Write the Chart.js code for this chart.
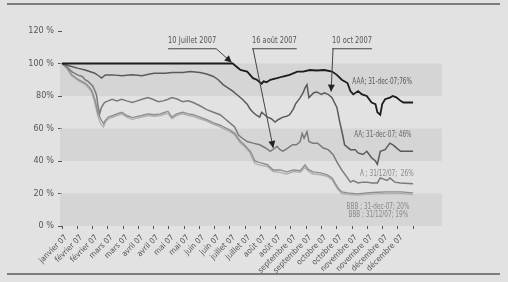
<!DOCTYPE html>
<html>
<head>
<meta charset="utf-8">
<script src="https://cdn.jsdelivr.net/npm/chart.js@4/dist/chart.umd.min.js"></script>
<style>
  html, body { margin: 0; padding: 0; background: #e2e2e2; }
  #wrap { width: 508px; height: 282px; }
</style>
</head>
<body>
<div id="wrap"><canvas id="chart" width="508" height="282"></canvas></div>
<script>
// x = day of 2007 (0 = 1 Jan), y = % of the 1 Jan level
const tickLabels = ['janvier 07', 'février 07', 'février 07', 'mars 07', 'mars 07', 'avril 07', 'avril 07',
  'mai 07', 'mai 07', 'juin 07', 'juin 07', 'juillet 07', 'juillet 07', 'août 07', 'août 07',
  'septembre 07', 'septembre 07', 'octobre 07', 'octobre 07', 'novembre 07', 'novembre 07',
  'décembre 07', 'décembre 07', ''];
const yTickText = ['0 %', '20 %', '40 %', '60 %', '80%', '100 %', '120 %'];

const aaa = [[0,100],[60,100],[122,100],[177,100],[181,98],[185,96],[192,95],[198,91],[202,90],[207,87.6],
  [209,89],[212,88.5],[216,90],[223,91],[229,92],[236,93],[244,95],[250,95],[257,96],[264,95.7],[272,96],
  [280,95],[285,93],[290,90],[296,88],[299,83],[302,81],[307,83],[311,81],[316,80],[321,76],[325,75],
  [327,70],[330,68.5],[332,75],[335,78],[340,79],[343,80],[347,79],[351,77],[354,76],[364,76]];

const aa = [[0,100],[8,98.5],[17,97],[24,96],[34,94],[39,92],[41,91],[45,93],[52,93],[62,92.5],[73,93],
  [83,92.5],[91,93.5],[96,94],[107,94],[114,94.4],[125,94.4],[133,95],[143,94.5],[150,93.5],[157,92],
  [162,90],[167,87],[172,85],[177,83],[183,80],[187,78],[192,75],[195,72],[198,70],[202,68],[205,67],
  [207,70],[211,68],[213,67],[217,66],[221,64],[224,65.4],[229,67],[233,67.5],[236,68.5],[240,72],
  [242,75],[247,79],[250,82],[252,85],[254,87],[256,79],[261,82],[264,82.5],[269,81],[272,82],[276,81],
  [280,79],[285,73],[288,64],[291,56],[293,50],[299,47],[304,47],[307,45],[312,44],[316,46],[321,42],
  [325,40],[327,38],[330,46],[335,47],[340,51],[343,50],[345,49],[351,46],[356,46],[364,46]];

const a = [[0,100],[5,98],[10,95],[16,93],[21,92],[24,90],[27,89],[32,86],[35,82],[36,80],[37,75],[39,69],
  [41,73],[44,76],[48,77],[52,78],[57,77],[62,78],[67,77],[73,76],[78,77],[83,78],[89,79],[94,78],
  [100,76.5],[105,77],[110,78],[114,79],[120,78],[125,76.5],[131,77],[136,76],[143,74],[150,71.6],
  [157,70],[164,68.5],[169,66],[174,63.5],[179,61],[183,56],[187,54],[192,52],[198,51],[205,50],[211,48],
  [216,46],[221,48],[223,49],[226,47],[229,46],[233,47.5],[239,50],[243,50],[247,52],[249,57],[251,54],
  [254,58],[256,52],[260,51],[265,51],[271,48],[276,47],[281,44],[285,39.5],[290,34.5],[296,29.6],
  [299,27],[302,28],[307,26.5],[312,27],[316,27],[321,26.5],[327,26.5],[330,29.6],[337,28],[340,29.6],
  [345,27],[351,26.5],[364,26]];

const bbb20 = [[0,100],[5,97.5],[10,93],[17,90],[24,88],[29,85],[31,83],[34,78],[37,70],[40,66],[43,63],
  [45,65],[48,67],[53,68],[57,69],[62,70],[67,68],[73,66.7],[78,67.5],[83,68],[89,69],[96,68.5],[102,69],
  [107,70],[110,70.5],[114,67],[119,69],[125,70],[131,69],[136,68.5],[143,67],[150,65.4],[157,63.5],
  [164,62],[169,60.5],[174,59],[179,57],[185,52],[189,50],[192,48],[195,46],[197,44],[200,40],[205,39],
  [213,37.7],[219,34.5],[226,34.5],[233,33.3],[240,34.5],[247,34],[252,37.6],[255,35],[260,33.3],
  [268,32.7],[275,31.5],[280,29.6],[283,26.5],[286,23.5],[290,21],[296,20.4],[306,19.8],[316,20.4],
  [327,20.8],[337,21],[351,21],[364,20.4]];

const bbb19 = [[0,100],[5,97],[10,92.5],[17,89.5],[24,87],[29,84],[31,82],[34,76],[37,68],[40,63],[43,61],
  [45,64],[48,66],[53,67],[57,68],[62,69],[67,67],[73,65.5],[78,66.5],[83,67],[89,68],[96,67.5],[102,68],
  [107,69],[110,69],[114,66],[119,68],[125,69],[131,68],[136,67.5],[143,66],[150,64.5],[157,62.5],
  [164,61],[169,59.5],[174,58],[179,56],[185,51],[189,49],[192,47],[195,45],[197,42],[200,38.5],
  [205,37.5],[213,36.5],[219,33.5],[226,33],[233,32],[240,33.5],[247,33],[252,36],[255,34],[260,32],
  [268,31.5],[275,30.5],[280,28.5],[283,25.5],[286,22.5],[290,20],[296,19.5],[306,19],[316,19.5],
  [327,19.8],[337,20],[351,20],[364,19.4]];

const endLabels = [
  { text: 'AAA; 31-dec-07;76%', at: [301, 89], color: '#555' },
  { text: 'AA; 31-dec-07; 46%', at: [303, 56], color: '#666' },
  { text: 'A ; 31/12/07;  26%', at: [309, 32], color: '#888' },
  { text: 'BBB ; 31-dec-07; 20%', at: [295, 11.7], color: '#888' },
  { text: 'BBB ; 31/12/07; 19%', at: [297, 6.8], color: '#888' }
];

const callouts = [
  { text: '10 Juillet 2007', at: [110, 114], from: 'end', tip: [176, 100.6] },
  { text: '16 août 2007', at: [197, 114], from: 'start', tip: [219, 48] },
  { text: '10 oct 2007', at: [280, 114], from: 'start', tip: [279, 82.7] }
];

const FONT = '"Liberation Sans Narrow", "DejaVu Sans Condensed", sans-serif';
const tickStep = 364 / 23;
const toXY = s => s.map(p => ({ x: p[0], y: p[1] }));

// text squeezed sideways, like the condensed face of the original
function narrowText(c, text, x, y, squeeze) {
  c.save();
  c.translate(x, y);
  c.scale(squeeze, 1);
  c.fillText(text, 0, 0);
  c.restore();
  return c.measureText(text).width * squeeze;
}

const bandsPlugin = {
  id: 'bands',
  beforeDraw(chart) {
    const c = chart.ctx;
    c.save();
    c.fillStyle = '#e2e2e2';
    c.fillRect(0, 0, chart.width, chart.height);
    c.strokeStyle = '#5c5c5c';
    c.lineWidth = 1.5;
    c.beginPath();
    c.moveTo(7, 4); c.lineTo(500, 4);
    c.moveTo(7, 274); c.lineTo(500, 274);
    c.stroke();
    c.restore();
  },
  beforeDatasetsDraw(chart) {
    const c = chart.ctx, area = chart.chartArea, y = chart.scales.y;
    c.save();
    c.fillStyle = '#d5d5d5';
    [[0, 20], [40, 60], [80, 100]].forEach(b => {
      const top = y.getPixelForValue(b[1]), bot = y.getPixelForValue(b[0]);
      c.fillRect(area.left - 2, top, area.right - area.left + 2, bot - top);
    });
    c.restore();
  }
};

const notesPlugin = {
  id: 'notes',
  afterDatasetsDraw(chart) {
    const c = chart.ctx, x = chart.scales.x, y = chart.scales.y;
    c.save();
    c.textBaseline = 'middle';
    c.textAlign = 'left';
    c.font = '8.5px ' + FONT;
    endLabels.forEach(l => {
      c.fillStyle = l.color;
      narrowText(c, l.text, x.getPixelForValue(l.at[0]), y.getPixelForValue(l.at[1]), 0.75);
    });
    c.font = '9.5px ' + FONT;
    c.lineWidth = 1;
    callouts.forEach(n => {
      const tx = x.getPixelForValue(n.at[0]), ty = y.getPixelForValue(n.at[1]);
      c.fillStyle = '#555';
      const w = narrowText(c, n.text, tx, ty, 0.78);
      const uy = ty + 8;
      c.strokeStyle = '#444';
      c.beginPath();
      c.moveTo(tx, uy); c.lineTo(tx + w, uy);
      const sx = n.from === 'end' ? tx + w : tx + 1;
      const px = x.getPixelForValue(n.tip[0]), py = y.getPixelForValue(n.tip[1]);
      c.moveTo(sx, uy); c.lineTo(px, py);
      c.stroke();
      const ang = Math.atan2(py - uy, px - sx);
      c.fillStyle = '#222';
      c.beginPath();
      c.moveTo(px, py);
      c.lineTo(px - 7 * Math.cos(ang) + 3.5 * Math.sin(ang), py - 7 * Math.sin(ang) - 3.5 * Math.cos(ang));
      c.lineTo(px - 7 * Math.cos(ang) - 3.5 * Math.sin(ang), py - 7 * Math.sin(ang) + 3.5 * Math.cos(ang));
      c.closePath();
      c.fill();
    });
    c.restore();
  }
};

const ctx = document.getElementById('chart');
new Chart(ctx, {
  type: 'line',
  data: {
    datasets: [
      { label: 'AAA', data: toXY(aaa), borderColor: '#1c1c1c', borderWidth: 1.8 },
      { label: 'AA', data: toXY(aa), borderColor: '#5a5a5a', borderWidth: 1.5 },
      { label: 'A', data: toXY(a), borderColor: '#7a7a7a', borderWidth: 1.5 },
      { label: 'BBB 20%', data: toXY(bbb20), borderColor: '#8e8e8e', borderWidth: 1.4 },
      { label: 'BBB 19%', data: toXY(bbb19), borderColor: '#b0b0b0', borderWidth: 1.4 }
    ]
  },
  options: {
    responsive: false,
    animation: false,
    devicePixelRatio: 1,
    elements: { point: { radius: 0 }, line: { tension: 0, fill: false } },
    layout: { padding: { top: 31, right: 66, left: 0, bottom: 0 } },
    plugins: { legend: { display: false }, tooltip: { enabled: false } },
    scales: {
      x: {
        type: 'linear', min: 0, max: 394,
        afterBuildTicks: s => { s.ticks = tickLabels.map((_, i) => ({ value: i * tickStep })); },
        afterFit: s => { s.height = 56; },
        grid: { drawOnChartArea: false, drawTicks: true, tickLength: 3, color: '#555' },
        border: { display: false },
        ticks: {
          autoSkip: false, maxRotation: 45, minRotation: 45, padding: 4, labelOffset: 4,
          color: '#555', font: { family: FONT, size: 8 },
          callback: (v, i) => tickLabels[i]
        }
      },
      y: {
        min: 0, max: 120,
        afterFit: s => { s.width = 62; },
        grid: { drawOnChartArea: false, drawTicks: true, tickLength: 4, color: '#555' },
        border: { display: false },
        ticks: {
          stepSize: 20, padding: 4, color: '#555', font: { family: FONT, size: 9 },
          callback: v => yTickText[Math.round(v / 20)]
        }
      }
    }
  },
  plugins: [bandsPlugin, notesPlugin]
});
</script>
</body>
</html>
